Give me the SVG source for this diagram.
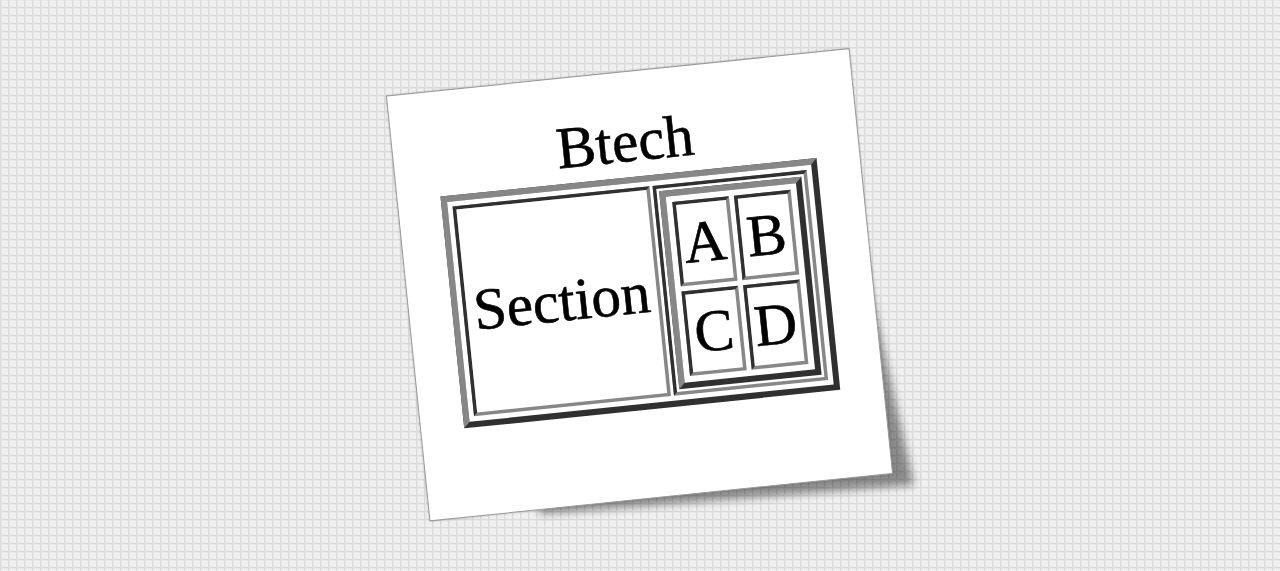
<svg xmlns="http://www.w3.org/2000/svg" width="1280" height="571" viewBox="0 0 1280 571">
  <defs>
    <pattern id="grid" width="8" height="8" x="0" y="7" patternUnits="userSpaceOnUse">
      <rect width="8" height="8" fill="#eeeeee"/>
      <rect width="8" height="1" fill="#dadada"/>
      <rect width="1" height="8" fill="#dadada"/>
      <rect x="1" y="1" width="7" height="1" fill="#e6e6e6"/>
      <rect x="1" y="1" width="1" height="7" fill="#e6e6e6"/>
      <rect x="3" y="3" width="1" height="1" fill="#fafafa"/>
      <rect x="5" y="2" width="1" height="1" fill="#fafafa"/>
      <rect x="2" y="5" width="1" height="1" fill="#fafafa"/>
      <rect x="6" y="6" width="1" height="1" fill="#fafafa"/>
      <rect x="4" y="5" width="1" height="1" fill="#f6f6f6"/>
      <rect x="6" y="4" width="1" height="1" fill="#f6f6f6"/>
    </pattern>
    <filter id="blur4" x="-20%" y="-20%" width="140%" height="140%">
      <feGaussianBlur stdDeviation="4"/>
    </filter>
    <filter id="blur1" x="-5%" y="-5%" width="110%" height="110%">
      <feGaussianBlur stdDeviation="1.5"/>
    </filter>
  </defs>
  <style>
    .dk { fill: #303030; }
    .gr { fill: #878787; }
    .wh { fill: #ffffff; }
    .t { font-family: "Liberation Serif", "Times New Roman", serif; font-size: 59px; text-anchor: middle; fill: #000000; stroke: #000000; stroke-width: 0.6px; }
  </style>

  <rect width="1280" height="571" fill="url(#grid)"/>

  <!-- card shadow -->
  <polygon points="858,235 914,485 540,514 520,300" fill="#000" opacity="0.42" filter="url(#blur4)"/>

  <g transform="translate(639.5,284.75) rotate(-5.85)">
    <rect x="-232.5" y="-213.5" width="465" height="427" fill="#000" opacity="0.25" filter="url(#blur1)"/>
    <g id="card">
      <rect x="-232.5" y="-213.5" width="465" height="427" fill="#ffffff" stroke="#9a9a9a" stroke-width="1"/>
    </g>

    <g id="title">
      <text class="t" x="0" y="-124">Btech</text>
    </g>

    <g id="outer-table">
      <rect class="dk" x="-189" y="-108" width="378" height="233"/>
      <polygon class="gr" points="-189,-108 189,-108 183,-102 -183,-102 -183,119 -189,125"/>
      <rect class="wh" x="-183" y="-102" width="366" height="221"/>
    </g>

    <g id="section-cell">
      <rect class="gr" x="-178" y="-97" width="198" height="211"/>
      <polygon class="dk" points="-178,-97 20,-97 16.5,-93.5 -174.5,-93.5 -174.5,110.5 -178,114"/>
      <rect class="wh" x="-174.5" y="-93.5" width="191" height="204"/>
      <text class="t" x="-79" y="28">Section</text>
    </g>

    <g id="right-cell">
      <rect class="gr" x="23" y="-97" width="155" height="211"/>
      <polygon class="dk" points="23,-97 178,-97 174.5,-93.5 26.5,-93.5 26.5,110.5 23,114"/>
      <rect class="wh" x="26.5" y="-93.5" width="148" height="204"/>
    </g>

    <g id="nested-table">
      <rect class="dk" x="29" y="-91" width="143" height="199"/>
      <polygon class="gr" points="29,-91 172,-91 166,-85 35,-85 35,102 29,108"/>
      <rect class="wh" x="35" y="-85" width="131" height="187"/>
    </g>

    <g id="cell-a">
      <rect class="gr" x="41" y="-79" width="57" height="85"/>
      <polygon class="dk" points="41,-79 98,-79 94.5,-75.5 44.5,-75.5 44.5,2.5 41,6"/>
      <rect class="wh" x="44.5" y="-75.5" width="50" height="78"/>
      <text class="t" x="69.5" y="-17">A</text>
    </g>

    <g id="cell-b">
      <rect class="gr" x="103" y="-79" width="57" height="85"/>
      <polygon class="dk" points="103,-79 160,-79 156.5,-75.5 106.5,-75.5 106.5,2.5 103,6"/>
      <rect class="wh" x="106.5" y="-75.5" width="50" height="78"/>
      <text class="t" x="131.5" y="-17">B</text>
    </g>

    <g id="cell-c">
      <rect class="gr" x="41" y="11" width="57" height="85"/>
      <polygon class="dk" points="41,11 98,11 94.5,14.5 44.5,14.5 44.5,92.5 41,96"/>
      <rect class="wh" x="44.5" y="14.5" width="50" height="78"/>
      <text class="t" x="69.5" y="73">C</text>
    </g>

    <g id="cell-d">
      <rect class="gr" x="103" y="11" width="57" height="85"/>
      <polygon class="dk" points="103,11 160,11 156.5,14.5 106.5,14.5 106.5,92.5 103,96"/>
      <rect class="wh" x="106.5" y="14.5" width="50" height="78"/>
      <text class="t" x="131.5" y="73">D</text>
    </g>

    <g id="connectors"/>
  </g>
</svg>
